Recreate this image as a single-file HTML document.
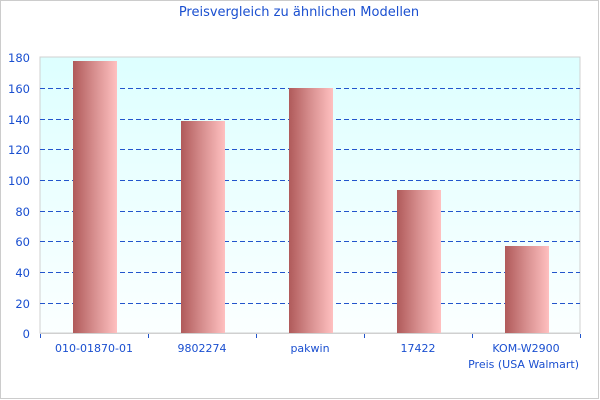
<!DOCTYPE html>
<html><head><meta charset="utf-8"><style>
body{margin:0;background:#fff}
svg{display:block;font-family:"DejaVu Sans",sans-serif}
</style></head><body>
<svg width="600" height="400" xmlns="http://www.w3.org/2000/svg">
<defs>
<linearGradient id="bg" x1="0" y1="0" x2="0" y2="1"><stop offset="0" stop-color="#ddffff"/><stop offset="1" stop-color="#fbffff"/></linearGradient>
<linearGradient id="bar" x1="0" y1="0" x2="1" y2="0"><stop offset="0" stop-color="#b05a5a"/><stop offset="0.5" stop-color="#d89090"/><stop offset="1" stop-color="#ffc0c0"/></linearGradient>
</defs>
<rect x="0.5" y="0.5" width="598" height="398" fill="#fff" stroke="#ccc"/>
<text x="299" y="16" text-anchor="middle" font-size="13" fill="#1a4fd0">Preisvergleich zu ähnlichen Modellen</text>
<rect x="40" y="57" width="540" height="276" fill="url(#bg)" stroke="#d0d0d0"/>
<g stroke="#2255cc" stroke-dasharray="5,3" stroke-width="1">
<line x1="40" x2="580" y1="88.5" y2="88.5"/><line x1="40" x2="580" y1="119.5" y2="119.5"/>
<line x1="40" x2="580" y1="149.5" y2="149.5"/><line x1="40" x2="580" y1="180.5" y2="180.5"/>
<line x1="40" x2="580" y1="211.5" y2="211.5"/><line x1="40" x2="580" y1="241.5" y2="241.5"/>
<line x1="40" x2="580" y1="272.5" y2="272.5"/><line x1="40" x2="580" y1="303.5" y2="303.5"/>
</g>
<g fill="url(#bar)">
<rect x="73" y="61" width="44" height="272"/>
<rect x="181" y="121" width="44" height="212"/>
<rect x="289" y="88" width="44" height="245"/>
<rect x="397" y="190" width="44" height="143"/>
<rect x="505" y="246" width="44" height="87"/>
</g>
<line x1="40" x2="580" y1="333.5" y2="333.5" stroke="#d0d0d0"/>
<g stroke="#2255cc"><line x1="148.5" x2="148.5" y1="334" y2="338"/><line x1="256.5" x2="256.5" y1="334" y2="338"/><line x1="364.5" x2="364.5" y1="334" y2="338"/><line x1="472.5" x2="472.5" y1="334" y2="338"/><line x1="580.5" x2="580.5" y1="334" y2="338"/><line x1="40.5" x2="40.5" y1="334" y2="338"/></g>
<g font-size="11.5" fill="#1a4fd0" text-anchor="end">
<text x="30" y="62">180</text><text x="30" y="93">160</text><text x="30" y="124">140</text><text x="30" y="154">120</text><text x="30" y="185">100</text><text x="30" y="216">80</text><text x="30" y="246">60</text><text x="30" y="277">40</text><text x="30" y="308">20</text><text x="30" y="338">0</text>
</g>
<g font-size="11" fill="#1a4fd0" text-anchor="middle">
<text x="94" y="352">010-01870-01</text><text x="202" y="352">9802274</text><text x="310" y="352">pakwin</text><text x="418" y="352">17422</text><text x="526" y="352">KOM-W2900</text>
<text x="579" y="368" text-anchor="end">Preis (USA Walmart)</text>
</g>
</svg>
</body></html>
